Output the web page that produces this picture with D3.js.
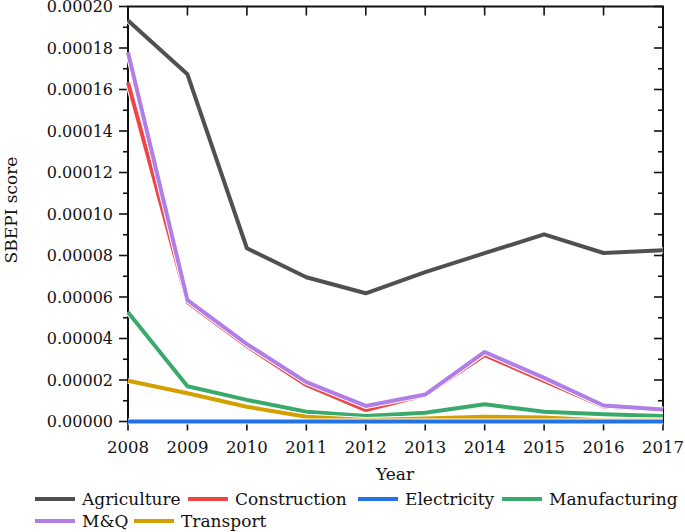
<!DOCTYPE html>
<html><head><meta charset="utf-8">
<script src="https://cdn.jsdelivr.net/npm/d3@7"></script>
<style>body{margin:0;background:#fff}svg{display:block}text{font-family:"DejaVu Serif",serif;fill:#111}</style>
</head><body><svg id="c" width="685" height="532"></svg>
<script>
const years = [2008,2009,2010,2011,2012,2013,2014,2015,2016,2017];
const agriculture   = [0.0001933,0.0001673,0.0000835,0.0000695,0.0000618,0.0000720,0.0000811,0.0000902,0.0000812,0.0000825];
const construction  = [0.0001634,0.0000575,0.0000363,0.0000176,0.0000055,0.0000128,0.0000320,0.0000195,0.0000072,0.0000055];
const electricity   = [0,0,0,0,0,0,0,0,0,0];
const manufacturing = [0.0000527,0.0000170,0.0000104,0.0000047,0.0000026,0.0000042,0.0000083,0.0000047,0.0000035,0.0000026];
const mq            = [0.0001778,0.0000585,0.0000373,0.0000190,0.0000075,0.0000130,0.0000335,0.0000210,0.0000077,0.0000058];
const transport     = [0.0000196,0.0000136,0.0000071,0.0000023,0.0000007,0.0000014,0.0000023,0.0000019,0.0000005,0.0000005];
const seriesNames = ["Agriculture","Construction","Electricity","Manufacturing","M&Q","Transport"];
const seriesColors = ["#505050","#f04545","#2372e6","#3aaa6c","#b07ee6","#d4a000"];
const yTicks = [0,0.00002,0.00004,0.00006,0.00008,0.00010,0.00012,0.00014,0.00016,0.00018,0.00020];
const seriesData = [agriculture,construction,electricity,manufacturing,mq,transport];

const svg = d3.select("#c");
const L=128,R=663,T=6.5,B=421.5;
const x = d3.scaleLinear().domain([2008,2017]).range([L,R]);
const y = d3.scaleLinear().domain([0,0.0002]).range([B,T]);

const minor = d3.range(0,0.00021,0.00001);
// left axis
const gL = svg.append("g").attr("transform",`translate(${L},0)`);
gL.selectAll("line.mn").data(minor).join("line").attr("x1",0).attr("x2",d=>Math.round(d*1e5)%2===0?-9:-5)
  .attr("y1",d=>y(d)).attr("y2",d=>y(d)).attr("stroke","#111").attr("stroke-width",1.6);
gL.selectAll("text").data(yTicks).join("text").attr("x",-15).attr("y",d=>y(d)).attr("dy","0.35em")
  .attr("text-anchor","end").style("font-size","16px").text(d=>d3.format(".5f")(d));
// right axis (inward)
const gR = svg.append("g").attr("transform",`translate(${R},0)`);
gR.selectAll("line").data(minor).join("line").attr("x1",0).attr("x2",d=>Math.round(d*1e5)%2===0?-9:-5)
  .attr("y1",d=>y(d)).attr("y2",d=>y(d)).attr("stroke","#111").attr("stroke-width",1.6);
// bottom axis
const gB = svg.append("g").attr("transform",`translate(0,${B})`);
gB.selectAll("line").data(years).join("line").attr("x1",d=>x(d)).attr("x2",d=>x(d)).attr("y1",0).attr("y2",9)
  .attr("stroke","#111").attr("stroke-width",1.6);
gB.selectAll("text").data(years).join("text").attr("x",d=>x(d)).attr("y",31).attr("text-anchor","middle")
  .style("font-size","16.5px").text(d=>d);
// top axis inward
const gT = svg.append("g").attr("transform",`translate(0,${T})`);
gT.selectAll("line").data(years).join("line").attr("x1",d=>x(d)).attr("x2",d=>x(d)).attr("y1",0).attr("y2",9)
  .attr("stroke","#111").attr("stroke-width",1.6);
// frame
svg.append("rect").attr("x",L).attr("y",T).attr("width",R-L).attr("height",B-T).attr("fill","none").attr("stroke","#111").attr("stroke-width",2);

// lines
const line = d3.line().x((d,i)=>x(years[i])).y(d=>y(d));
const order = [0,3,5,2,1,4];
const gl = svg.append("g");
order.forEach(k=>{
  gl.append("path").datum(seriesData[k]).attr("d",line).attr("fill","none").attr("stroke","#fff").attr("stroke-width",6).attr("stroke-linejoin","round");
  gl.append("path").datum(seriesData[k]).attr("d",line).attr("fill","none").attr("stroke",seriesColors[k]).attr("stroke-width",4).attr("stroke-linejoin","round");
});

// titles
svg.append("text").attr("x",395).attr("y",480).attr("text-anchor","middle").style("font-size","17px").text("Year");
svg.append("text").attr("transform","translate(17,210) rotate(-90)").attr("text-anchor","middle").style("font-size","17px").text("SBEPI score");

// legend
const leg = [
  {k:0,x:35,y:499},{k:1,x:188,y:499},{k:2,x:358,y:499},{k:3,x:502,y:499},
  {k:4,x:35,y:521},{k:5,x:134,y:521}];
leg.forEach(o=>{
  svg.append("line").attr("x1",o.x).attr("x2",o.x+40).attr("y1",o.y).attr("y2",o.y).attr("stroke",seriesColors[o.k]).attr("stroke-width",4);
  svg.append("text").attr("x",o.x+47).attr("y",o.y).attr("dy","0.35em").style("font-size","17px").text(seriesNames[o.k]);
});
</script></body></html>
